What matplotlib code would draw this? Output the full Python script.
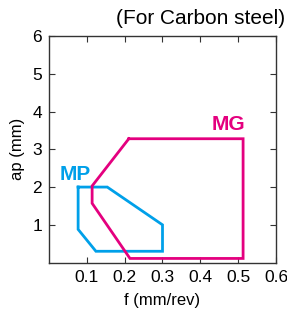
import matplotlib
matplotlib.use("Agg")
import matplotlib.pyplot as plt

plt.rcParams['font.family'] = ['Liberation Sans', 'DejaVu Sans']

# MP chipbreaker range (feed f, depth ap)
mp_f = [0.077, 0.154, 0.300, 0.300, 0.124, 0.077, 0.077]
mp_ap = [2.0, 2.0, 1.0, 0.3, 0.3, 0.88, 2.0]

# MG chipbreaker range
mg_f = [0.211, 0.513, 0.513, 0.214, 0.114, 0.114, 0.211]
mg_ap = [3.28, 3.28, 0.11, 0.11, 1.57, 2.03, 3.28]

xticks = [0.1, 0.2, 0.3, 0.4, 0.5, 0.6]
yticks = [1, 2, 3, 4, 5, 6]

blue = '#00A0E9'
magenta = '#E4007F'

fig = plt.figure(figsize=(2.87, 3.16), dpi=100)
ax = fig.add_axes([0.1707, 0.169, 0.791, 0.717])

ax.plot(mp_f, mp_ap, color=blue, lw=2.0, solid_joinstyle='miter')
ax.plot(mg_f, mg_ap, color=magenta, lw=2.0, solid_joinstyle='miter')

ax.text(0.518, 3.40, 'MG', color=magenta, fontsize=15, fontweight='bold', ha='right', va='bottom')
ax.text(0.028, 2.07, 'MP', color=blue, fontsize=15, fontweight='bold', ha='left', va='bottom')

ax.set_xlim(0, 0.6)
ax.set_ylim(0, 6)
ax.set_xticks(xticks)
ax.set_yticks(yticks)
ax.set_xticklabels([f'{v:g}' for v in xticks])
ax.set_yticklabels([f'{v:g}' for v in yticks])
ax.tick_params(direction='in', length=4, width=0.8, labelsize=12.5, pad=5, color='#333333')
ax.tick_params(top=True, right=True, which='both')
for s in ax.spines.values():
    s.set_linewidth(1.0)
    s.set_color('#333333')

ax.set_xlabel('f (mm/rev)', fontsize=12, labelpad=6)
ax.set_ylabel('ap (mm)', fontsize=12, labelpad=5)

fig.text(0.995, 0.942, '(For Carbon steel)', fontsize=15, ha='right', va='center')

fig.savefig('out.png', dpi=100)
